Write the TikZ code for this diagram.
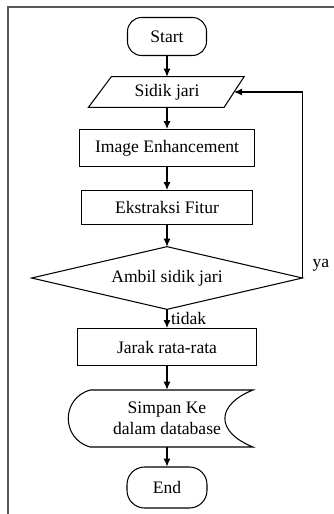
\documentclass[tikz,border=0pt]{standalone}
\usepackage{fontspec}
\setmainfont{Liberation Serif}
\usepackage{tikz}
\usetikzlibrary{arrows.meta, positioning, calc}

\begin{document}
\begin{tikzpicture}[
		term/.style={draw, line width=0.6pt, rounded corners=8pt, minimum width=1.58cm, minimum height=0.76cm, font=\normalsize},
		proc/.style={draw, line width=0.6pt, minimum height=0.74cm, font=\normalsize},
		bare/.style={inner sep=0pt, align=center},
		flow/.style={->, line width=0.6pt},
		>={Latex[length=4.5pt, width=4pt]}
	]
	\useasboundingbox (0,0) rectangle (6.68,-10.28);
	\draw[line width=1pt, black!65] (0.16,-10.4) -- (0.16,-0.14) -- (6.8,-0.14);

	\node[term] (start) at (3.34,-0.73) {Start};
	\node[bare, minimum width=2.67cm, minimum height=0.6cm] (sidik) at (3.34,-1.84) {Sidik jari};
	\node[proc, minimum width=3.5cm] (enh) at (3.34,-2.96) {Image Enhancement};
	\node[proc, minimum width=3.42cm, minimum height=0.68cm] (fitur) at (3.34,-4.15) {Ekstraksi Fitur};
	\node[bare, minimum width=5.4cm, minimum height=1.24cm] (ambil) at (3.34,-5.56) {Ambil sidik jari};
	\node[proc, minimum width=3.58cm] (jarak) at (3.34,-6.94) {Jarak rata-rata};
	\node[bare, minimum height=1.14cm] (simpan) at (3.34,-8.37) {Simpan Ke\\dalam database};
	\node[term, rounded corners=10pt, minimum width=1.6cm, minimum height=0.82cm] (end) at (3.34,-9.75) {End};

	% input, decision and stored data outlines
	\draw[line width=0.6pt] ([xshift=0.23cm]sidik.north west) -- ([xshift=0.2cm]sidik.north east)
		-- ([xshift=-0.2cm]sidik.south east) -- ([xshift=-0.23cm]sidik.south west) -- cycle;
	\draw[line width=0.6pt] (ambil.north) -- (ambil.east) -- (ambil.south) -- (ambil.west) -- cycle;
	\begin{scope}[shift={(simpan.center)}, line width=0.6pt]
		\draw (-1.54,0.57) -- (1.72,0.57)
			.. controls (0.97,0.27) and (0.97,-0.27) .. (1.72,-0.57)
			-- (-1.54,-0.57)
			.. controls (-2.12,-0.4) and (-2.12,0.4) .. (-1.54,0.57);
	\end{scope}

	\draw[flow] (start) -- (sidik);
	\draw[flow] (sidik) -- (enh);
	\draw[flow] (enh) -- (fitur);
	\draw[flow] (fitur) -- (ambil);
	\draw[flow] (ambil) -- (jarak) node[midway, right, inner sep=2pt] {tidak};
	\draw[flow] (jarak) -- (simpan);
	\draw[flow] (simpan) -- (end);
	\draw[flow] (ambil.east) -- (ambil.east |- sidik.east) -- (sidik.east);
	\node (ya) at (6.42,-5.3) {ya};
\end{tikzpicture}
\end{document}
